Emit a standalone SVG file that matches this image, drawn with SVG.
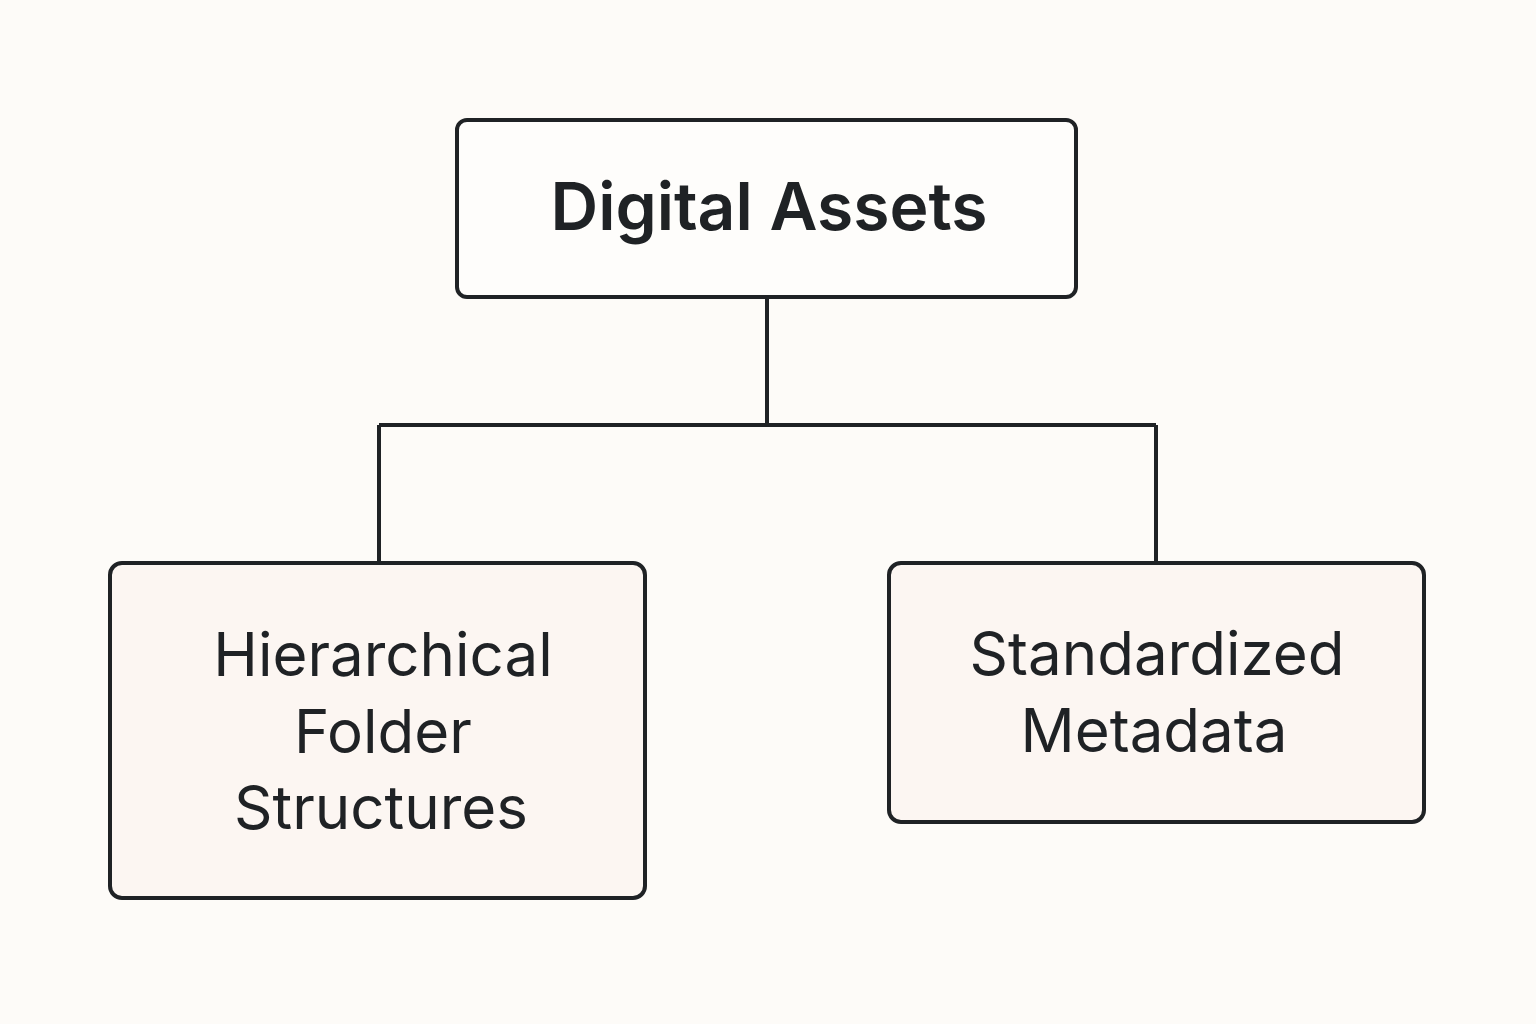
<svg xmlns="http://www.w3.org/2000/svg" width="1536" height="1024" viewBox="0 0 1536 1024">
<style>
.box{stroke:#1f2225;stroke-width:4}
.t{font-family:Inter,"Noto Sans",sans-serif;fill:#1f2225;text-anchor:middle}
.c{fill:none;stroke:#1f2225;stroke-width:4}
</style>
<rect width="1536" height="1024" fill="#fdfbf8"/>
<g id="connectors">
<path class="c" d="M767 298V425M379 425H1156M379 425V563M1156 425V563"/>
</g>
<g id="root">
<rect class="box" x="457" y="120" width="619" height="177" rx="10" fill="#fefdfb"/>
<text class="t" x="769" y="230" font-size="66" font-weight="600">Digital Assets</text>
</g>
<g id="left">
<rect class="box" x="110" y="563" width="535" height="335" rx="12" fill="#fcf6f2"/>
<text class="t" x="383" y="676" font-size="60">Hierarchical</text>
<text class="t" x="383" y="753" font-size="60">Folder</text>
<text class="t" x="381" y="829" font-size="60">Structures</text>
</g>
<g id="right">
<rect class="box" x="889" y="563" width="535" height="259" rx="12" fill="#fcf6f2"/>
<text class="t" x="1157" y="675" font-size="60">Standardized</text>
<text class="t" x="1154" y="752" font-size="60">Metadata</text>
</g>
</svg>
